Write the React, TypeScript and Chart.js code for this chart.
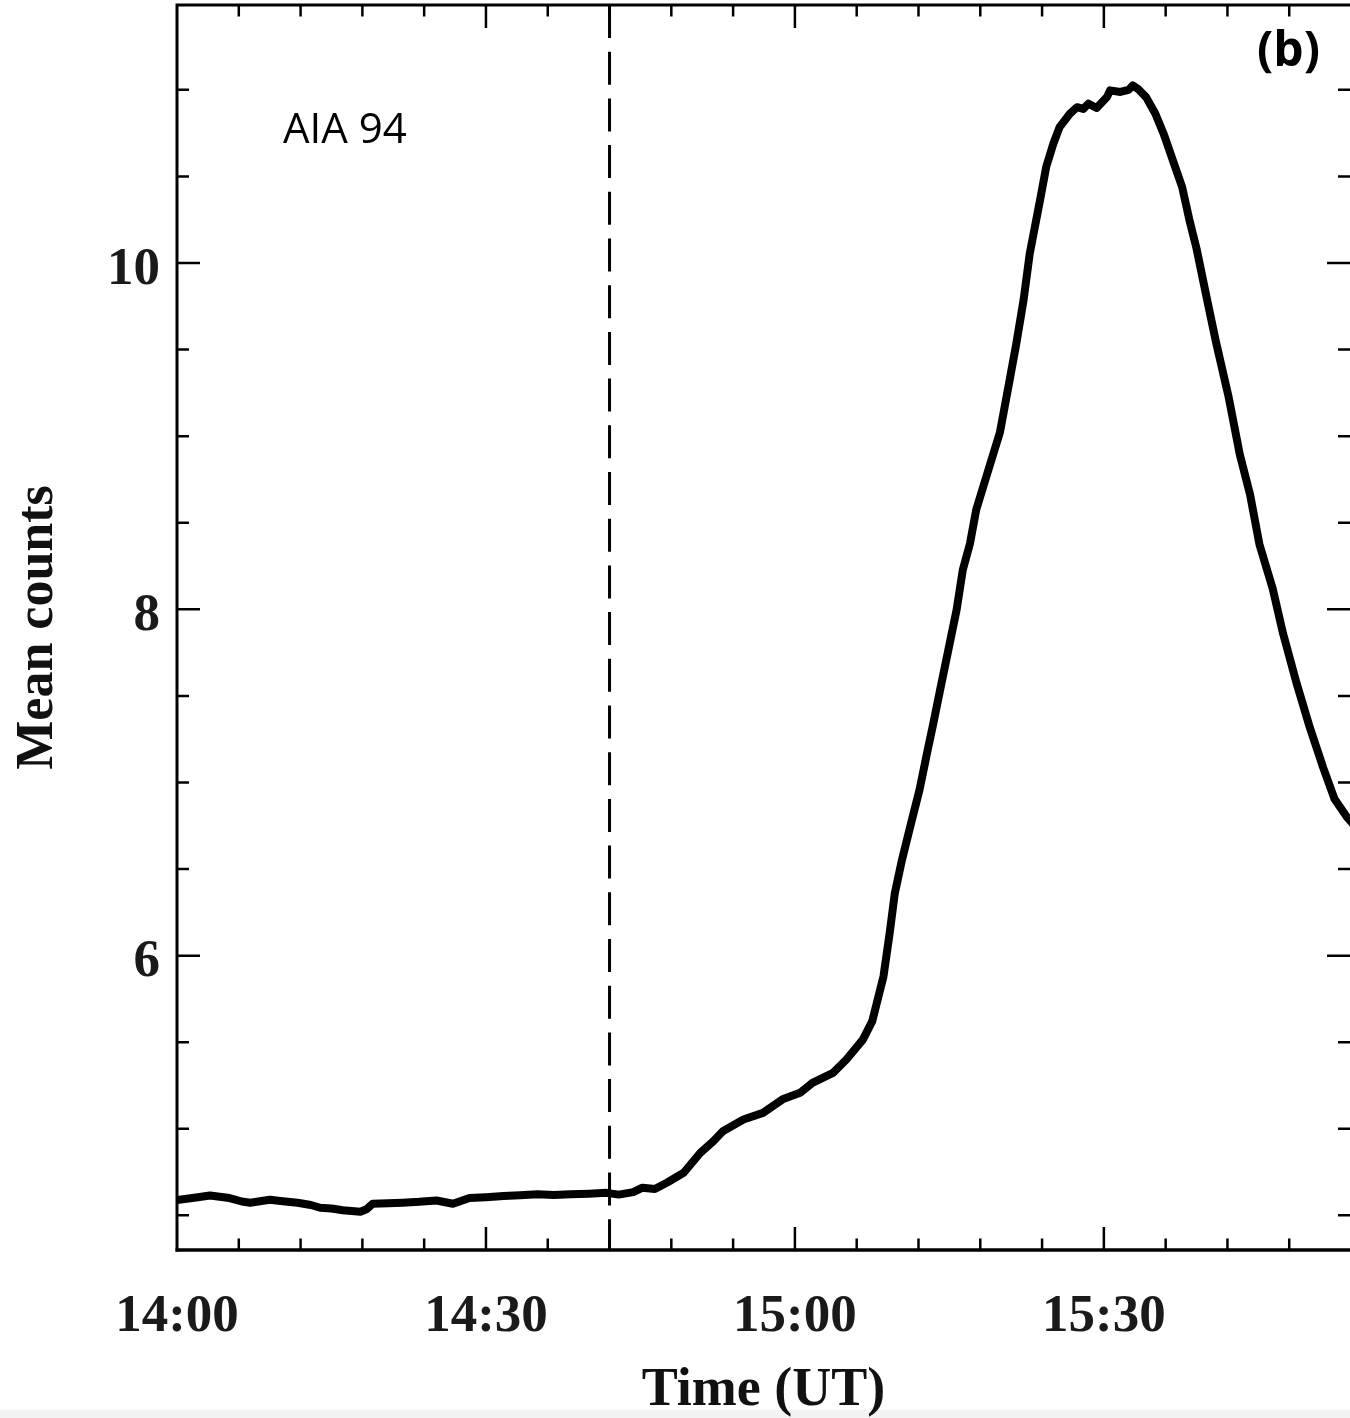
import React, { useEffect, useRef } from 'react';
import { Chart, registerables } from 'chart.js';

Chart.register(...registerables);

// Minutes after 14:00 UT
const timeMin = [
  0, 1.5, 3.2, 5.1, 6.3, 7.1, 9.0, 10.5, 11.7, 13.0, 13.9, 15.0, 16.1, 17.8, 18.4, 19.0,
  20.5, 21.9, 23.5, 25.2, 26.8, 28.4, 30.0, 31.7, 33.3, 35.0, 36.6, 38.2, 40.0, 41.7,
  42.9, 44.3, 45.2, 46.4, 47.6, 49.2, 50.8, 52.1, 53.0, 55.0, 56.9, 58.8, 60.5, 61.7,
  63.7, 65.0, 66.6, 67.5, 68.6, 69.2, 69.7, 70.4, 71.2, 72.1, 72.9, 73.4, 74.1, 74.9,
  75.7, 76.3, 77.0, 77.6, 78.4, 79.9, 80.9, 81.5, 82.2, 82.8, 83.3, 83.8, 84.4, 85.1,
  85.7, 86.7, 87.4, 88.0, 88.5, 89.3, 90.3, 90.6, 91.6, 92.4, 92.8, 93.3, 94.1, 95.0,
  95.8, 96.7, 97.6, 98.3, 99.0, 99.9, 100.9, 102.1, 103.2, 104.2, 105.1, 106.4, 107.4,
  108.7, 110.0, 111.3, 112.4, 113.6, 114.5,
];

const meanCounts = [
  4.588, 4.6, 4.615, 4.6, 4.58, 4.573, 4.59, 4.58, 4.573, 4.56, 4.544, 4.54, 4.53, 4.521, 4.535, 4.567,
  4.57, 4.573, 4.578, 4.586, 4.567, 4.6, 4.605, 4.612, 4.616, 4.622, 4.618, 4.622, 4.625, 4.63,
  4.62, 4.634, 4.66, 4.652, 4.69, 4.746, 4.86, 4.93, 4.986, 5.054, 5.092, 5.17, 5.208, 5.265,
  5.323, 5.4, 5.515, 5.62, 5.88, 6.13, 6.36, 6.554, 6.746, 6.958, 7.19, 7.33, 7.535, 7.766,
  7.997, 8.227, 8.38, 8.574, 8.73, 9.02, 9.34, 9.535, 9.785, 10.054, 10.208, 10.362, 10.555, 10.69,
  10.785, 10.862, 10.9, 10.89, 10.92, 10.895, 10.958, 10.997, 10.988, 11.0, 11.026, 11.006, 10.958, 10.862,
  10.747, 10.593, 10.439, 10.25, 10.083, 9.823, 9.54, 9.23, 8.894, 8.661, 8.377, 8.118, 7.86,
  7.576, 7.317, 7.085, 6.904, 6.8, 6.74,
];

const xTickValues = [0, 30, 60, 90];
const xTickLabels = ['14:00', '14:30', '15:00', '15:30'];
const yTickValues = [6, 8, 10];
const yTickLabels = ['6', '8', '10'];

const eventTime = 42; // 14:42 UT
const X_MIN = 0;
const X_MAX = 113.9;
const Y_MIN = 4.3;
const Y_MAX = 11.49;

const xMinorStep = 6;
const xMajorStep = 30;
const yMinorStep = 0.5;
const yMajorStep = 2;

const serifBold = (size: number) => ({
  family: "'Liberation Serif', 'Times New Roman', serif",
  size,
  weight: 'bold' as const,
  lineHeight: 1,
});

const framePlugin = {
  id: 'idlFrame',
  beforeDraw(chart: any) {
    const { ctx, width, height } = chart;
    ctx.save();
    ctx.fillStyle = '#ffffff';
    ctx.fillRect(0, 0, width, height);
    ctx.fillStyle = '#f3f3f3';
    ctx.fillRect(0, height - 8, width, 8);
    ctx.restore();
  },
  afterDraw(chart: any) {
    const { ctx, chartArea, scales } = chart;
    const { left, right, top, bottom } = chartArea;
    const xs = scales.x;
    const ys = scales.y;
    ctx.save();
    ctx.strokeStyle = '#000';
    ctx.lineCap = 'butt';

    // axis lines (left, top, bottom)
    ctx.lineWidth = 3;
    ctx.beginPath();
    ctx.moveTo(left, top);
    ctx.lineTo(right + 2, top);
    ctx.moveTo(left, top - 1.5);
    ctx.lineTo(left, bottom + 1.5);
    ctx.stroke();
    ctx.lineWidth = 3.5;
    ctx.beginPath();
    ctx.moveTo(left - 1.5, bottom);
    ctx.lineTo(right + 2, bottom);
    ctx.stroke();

    // inward ticks
    ctx.lineWidth = 2.5;
    ctx.beginPath();
    const nX = Math.floor((X_MAX - X_MIN) / xMinorStep + 1e-6);
    for (let i = 1; i <= nX; i++) {
      const v = X_MIN + i * xMinorStep;
      const px = xs.getPixelForValue(v);
      const major = Math.abs(v / xMajorStep - Math.round(v / xMajorStep)) < 1e-6;
      const len = major ? 23 : 11.5;
      ctx.moveTo(px, bottom);
      ctx.lineTo(px, bottom - len);
      ctx.moveTo(px, top);
      ctx.lineTo(px, top + len);
    }
    const yStart = Math.ceil(Y_MIN / yMinorStep) * yMinorStep;
    for (let i = 0; yStart + i * yMinorStep <= Y_MAX; i++) {
      const v = yStart + i * yMinorStep;
      const py = ys.getPixelForValue(v);
      const major = Math.abs(v / yMajorStep - Math.round(v / yMajorStep)) < 1e-6;
      const len = major ? 23 : 12;
      ctx.moveTo(left, py);
      ctx.lineTo(left + len, py);
      ctx.moveTo(right, py);
      ctx.lineTo(right - len, py);
    }
    ctx.stroke();

    // annotations
    ctx.fillStyle = '#000';
    ctx.textBaseline = 'alphabetic';
    ctx.textAlign = 'left';
    ctx.font = "42px 'Open Sans', 'Noto Sans', sans-serif";
    ctx.fillText('AIA 94', left + 106, top + 138);
    ctx.font = "bold 48px 'Open Sans', 'Noto Sans', sans-serif";
    ctx.fillText('(b)', left + 1080, top + 61);
    ctx.restore();
  },
};

export default function App() {
  const canvasRef = useRef<HTMLCanvasElement | null>(null);

  useEffect(() => {
    const canvas = canvasRef.current;
    if (!canvas) return;
    const points = timeMin.map((t, i) => ({ x: t, y: meanCounts[i] }));
    const chart = new Chart(canvas, {
      type: 'line',
      data: {
        datasets: [
          {
            data: points,
            borderColor: '#000',
            borderWidth: 8,
            pointRadius: 0,
            tension: 0,
            borderJoinStyle: 'round',
            borderCapStyle: 'round',
            fill: false,
          },
          {
            data: [
              { x: eventTime, y: Y_MAX },
              { x: eventTime, y: Y_MIN },
            ],
            borderColor: '#000',
            borderWidth: 3,
            borderDash: [33, 13.7],
            pointRadius: 0,
            fill: false,
          },
        ],
      },
      options: {
        responsive: false,
        maintainAspectRatio: false,
        animation: false,
        devicePixelRatio: 1,
        layout: { padding: { top: 5, right: 0, left: 0, bottom: 0 } },
        plugins: {
          legend: { display: false },
          tooltip: { enabled: false },
        },
        scales: {
          x: {
            type: 'linear',
            min: X_MIN,
            max: X_MAX,
            afterBuildTicks: (s: any) => {
              s.ticks = xTickValues.map((v) => ({ value: v }));
            },
            afterFit: (s: any) => {
              s.height = 168;
              s.paddingLeft = 0;
              s.paddingRight = 0;
            },
            ticks: {
              autoSkip: false,
              maxRotation: 0,
              minRotation: 0,
              padding: 41,
              color: '#1a1a1a',
              font: serifBold(53),
              callback: (value: any) => {
                const i = xTickValues.indexOf(Number(value));
                return i >= 0 ? xTickLabels[i] : '';
              },
            },
            grid: { display: false, drawTicks: false },
            border: { display: false },
            title: {
              display: true,
              text: 'Time (UT)',
              color: '#111',
              font: serifBold(54),
              padding: { top: 0, bottom: 0 },
            },
          },
          y: {
            type: 'linear',
            min: Y_MIN,
            max: Y_MAX,
            afterBuildTicks: (s: any) => {
              s.ticks = yTickValues.map((v) => ({ value: v }));
            },
            afterFit: (s: any) => {
              s.width = 177;
              s.paddingTop = 0;
              s.paddingBottom = 0;
            },
            ticks: {
              autoSkip: false,
              padding: 17,
              labelOffset: 7,
              color: '#1a1a1a',
              font: serifBold(53),
              callback: (value: any) => {
                const i = yTickValues.indexOf(Number(value));
                return i >= 0 ? yTickLabels[i] : '';
              },
            },
            grid: { display: false, drawTicks: false },
            border: { display: false },
            title: {
              display: true,
              text: 'Mean counts',
              color: '#111',
              font: serifBold(52),
              padding: { top: 13, bottom: 0 },
            },
          },
        },
      },
      plugins: [framePlugin],
    });
    return () => {
      chart.destroy();
    };
  }, []);

  return (
    <div
      style={{
        position: 'absolute',
        left: 0,
        top: 0,
        width: 1350,
        height: 1418,
        overflow: 'hidden',
        background: '#fff',
      }}
    >
      <canvas ref={canvasRef} width={1350} height={1418} style={{ display: 'block' }} />
    </div>
  );
}
